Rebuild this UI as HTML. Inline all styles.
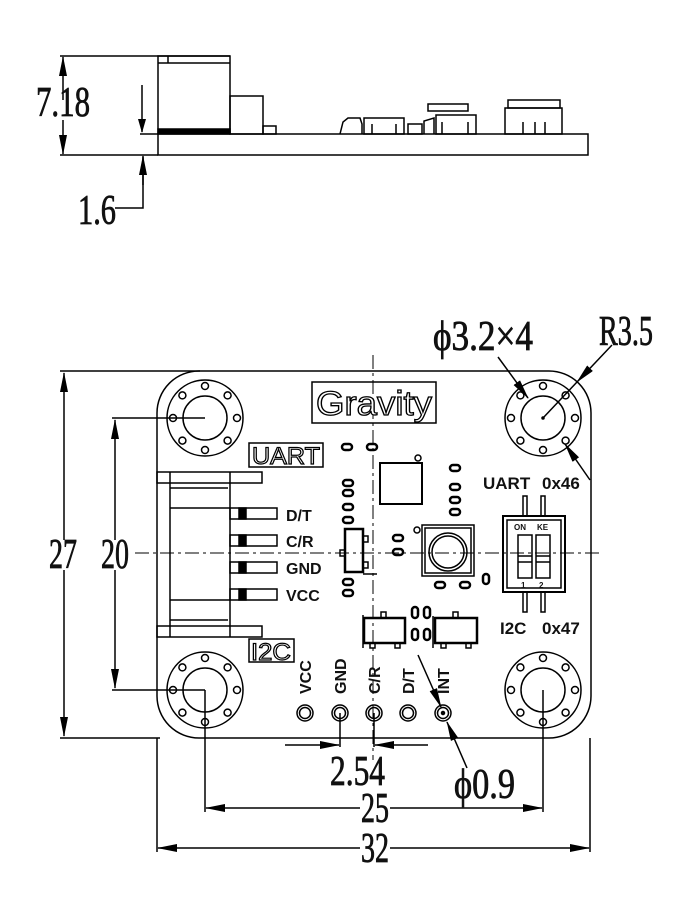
<!DOCTYPE html>
<html><head><meta charset="utf-8"><style>
html,body{margin:0;padding:0;background:#fff;}
svg{display:block;}
.d{font-family:"Liberation Serif",serif;font-size:42px;fill:#111;stroke:#111;stroke-width:0.8;}
.l{font-family:"Liberation Sans",sans-serif;font-weight:bold;fill:#111;}
</style></head><body>
<svg width="700" height="923" viewBox="0 0 700 923" xmlns="http://www.w3.org/2000/svg">
<defs>
<marker id="a" markerWidth="14" markerHeight="8" refX="13" refY="4" orient="auto" markerUnits="userSpaceOnUse"><path d="M0,0 L14,4 L0,8 Z" fill="#000"/></marker>
<marker id="as" markerWidth="20" markerHeight="8" refX="19" refY="4" orient="auto" markerUnits="userSpaceOnUse"><path d="M0,0 L20,4 L0,8 Z" fill="#000"/></marker>
</defs>
<g stroke="#000" fill="none" stroke-width="1.5">
<line x1="60" y1="56" x2="230" y2="56"/>
<line x1="60" y1="155" x2="158" y2="155"/>
<line x1="63" y1="100" x2="63" y2="57" marker-end="url(#as)"/>
<line x1="63" y1="120" x2="63" y2="154" marker-end="url(#as)"/>
<line x1="142" y1="85" x2="142" y2="132" marker-end="url(#a)"/>
<line x1="140" y1="134" x2="158" y2="134"/>
<polyline points="115,208 143,208 143,157" />
<line x1="143" y1="185" x2="143" y2="156" marker-end="url(#as)"/>
<rect x="158" y="134" width="430" height="21"/>
<rect x="158" y="56" width="72" height="78"/>
<line x1="158" y1="63" x2="230" y2="63"/>
<line x1="168" y1="56" x2="168" y2="63"/>
<rect x="158" y="129" width="72" height="4" fill="#000"/>
<rect x="230" y="96" width="33" height="38"/>
<rect x="263" y="126" width="13" height="8"/>
<path d="M340,134 L343,122 L348,118 L360,118 L362,124 L362,134"/>
<rect x="364" y="118" width="40" height="16"/>
<line x1="372" y1="124" x2="372" y2="134"/><line x1="396" y1="124" x2="396" y2="134"/>
<rect x="408" y="124" width="14" height="10"/>
<rect x="428" y="104" width="40" height="7"/>
<path d="M424,134 L424,121 L434,118 L434,134"/>
<rect x="436" y="115" width="40" height="19"/>
<line x1="442" y1="122" x2="442" y2="134"/><line x1="468" y1="122" x2="468" y2="134"/>
<rect x="505" y="108" width="57" height="26"/>
<rect x="508" y="100" width="52" height="8"/>
<line x1="523" y1="122" x2="523" y2="134"/><line x1="535" y1="122" x2="535" y2="134"/><line x1="545" y1="122" x2="545" y2="134"/>
</g>
<text class="d" x="36" y="116" textLength="54" lengthAdjust="spacingAndGlyphs">7.18</text>
<text class="d" x="78" y="224" textLength="38" lengthAdjust="spacingAndGlyphs">1.6</text>

<g stroke="#000" fill="none" stroke-width="1.5">
<rect x="157" y="371" width="434" height="367" rx="42"/>
<line x1="60" y1="371" x2="200" y2="371"/>
<line x1="60" y1="738" x2="160" y2="738"/>
<line x1="64" y1="540" x2="64" y2="373" marker-end="url(#as)"/>
<line x1="64" y1="570" x2="64" y2="736" marker-end="url(#as)"/>
<line x1="112" y1="418" x2="205" y2="418"/>
<line x1="112" y1="690" x2="205" y2="690"/>
<line x1="115" y1="540" x2="115" y2="420" marker-end="url(#as)"/>
<line x1="115" y1="570" x2="115" y2="688" marker-end="url(#as)"/>
<line x1="135" y1="553" x2="600" y2="553" stroke-width="1" stroke-dasharray="14,4,3,4"/>
<line x1="373" y1="355" x2="373" y2="760" stroke-width="1" stroke-dasharray="14,4,3,4"/>
<line x1="205" y1="690" x2="205" y2="812"/>
<line x1="543" y1="690" x2="543" y2="812"/>
<line x1="157" y1="738" x2="157" y2="852"/>
<line x1="590" y1="738" x2="590" y2="852"/>
<line x1="340" y1="713" x2="340" y2="747"/>
<line x1="374" y1="713" x2="374" y2="747"/>
<line x1="285" y1="745" x2="339" y2="745" marker-end="url(#as)"/>
<line x1="428" y1="745" x2="375" y2="745" marker-end="url(#as)"/>
<line x1="360" y1="808" x2="206" y2="808" marker-end="url(#as)"/>
<line x1="390" y1="808" x2="542" y2="808" marker-end="url(#as)"/>
<line x1="360" y1="848" x2="158" y2="848" marker-end="url(#as)"/>
<line x1="390" y1="848" x2="589" y2="848" marker-end="url(#as)"/>
<line x1="418" y1="655" x2="441" y2="707" marker-end="url(#as)"/>
<line x1="467" y1="768" x2="447" y2="722" marker-end="url(#as)"/>
<line x1="498" y1="357" x2="528" y2="398" marker-end="url(#as)"/>
<line x1="612" y1="345" x2="577" y2="382" marker-end="url(#as)"/>
<line x1="577" y1="382" x2="543" y2="418"/>
<line x1="590" y1="480" x2="565" y2="444" marker-end="url(#as)"/>
<rect x="157" y="472" width="105" height="11"/>
<rect x="157" y="626" width="105" height="11"/>
<line x1="170" y1="472" x2="170" y2="637"/>
<line x1="230" y1="472" x2="230" y2="637"/>
<line x1="170" y1="488" x2="228" y2="488"/>
<line x1="170" y1="508" x2="230" y2="508"/>
<line x1="170" y1="600" x2="230" y2="600"/>
<line x1="170" y1="620" x2="228" y2="620"/>
<rect x="230" y="508" width="47" height="11"/><rect x="239" y="508" width="7" height="11" fill="#000"/>
<rect x="230" y="535" width="47" height="11"/><rect x="239" y="535" width="7" height="11" fill="#000"/>
<rect x="230" y="562" width="47" height="11"/><rect x="239" y="562" width="7" height="11" fill="#000"/>
<rect x="230" y="589" width="47" height="11"/><rect x="239" y="589" width="7" height="11" fill="#000"/>
<rect x="312" y="382" width="124" height="41"/>
<rect x="249" y="443" width="74" height="24"/>
<rect x="249" y="639" width="45" height="23"/>
<rect x="380" y="463" width="42" height="41" stroke-width="2"/>
<circle cx="418" cy="458" r="3"/>
<rect x="422" y="525" width="52" height="51"/>
<rect x="425" y="528" width="46" height="45"/>
<circle cx="448" cy="552" r="19"/><circle cx="448" cy="552" r="16"/>
<circle cx="417" cy="530" r="3"/>
<rect x="345" y="529" width="18" height="43" stroke-width="2.5"/>
<rect x="363" y="536" width="5" height="6"/><rect x="363" y="562" width="5" height="6"/><rect x="340" y="550" width="5" height="6"/>
<line x1="363" y1="574" x2="377" y2="574"/>
<rect x="364" y="618" width="41" height="25" stroke-width="2.5"/>
<rect x="381" y="612" width="5" height="6"/><rect x="370" y="643" width="5" height="5"/><rect x="395" y="643" width="5" height="5"/>
<line x1="363" y1="615" x2="363" y2="648"/>
<rect x="435" y="618" width="42" height="25" stroke-width="2.5"/>
<rect x="453" y="612" width="5" height="6"/><rect x="441" y="643" width="5" height="5"/><rect x="466" y="643" width="5" height="5"/>
<line x1="433" y1="616" x2="433" y2="648"/>
<g stroke-width="2.5">
<rect x="342" y="444" width="10" height="6" rx="3"/>
<rect x="367" y="444" width="10" height="6" rx="3"/>
<rect x="343" y="480" width="10" height="6" rx="3"/>
<rect x="343" y="490" width="10" height="6" rx="3"/>
<rect x="343" y="504" width="10" height="6" rx="3"/>
<rect x="343" y="517" width="10" height="6" rx="3"/>
<rect x="343" y="579" width="10" height="6" rx="3"/>
<rect x="343" y="590" width="10" height="6" rx="3"/>
<rect x="393" y="535" width="10" height="6" rx="3"/>
<rect x="393" y="549" width="10" height="6" rx="3"/>
<rect x="450" y="465" width="10" height="6" rx="3"/>
<rect x="450" y="484" width="10" height="6" rx="3"/>
<rect x="450" y="497" width="10" height="6" rx="3"/>
<rect x="450" y="509" width="10" height="6" rx="3"/>
<rect x="435" y="582" width="10" height="6" rx="3"/>
<rect x="460" y="582" width="10" height="6" rx="3"/>
<rect x="483" y="574" width="6" height="10" rx="3"/>
<rect x="412" y="607" width="6" height="11" rx="3"/>
<rect x="424" y="607" width="6" height="11" rx="3"/>
<rect x="412" y="629" width="6" height="11" rx="3"/>
<rect x="424" y="629" width="6" height="11" rx="3"/>
</g>
<rect x="503" y="516" width="62" height="76" stroke-width="2"/>
<rect x="507" y="520" width="54" height="68"/>
<rect x="518" y="535" width="14" height="43"/><line x1="518" y1="556" x2="532" y2="556"/><line x1="518" y1="562" x2="532" y2="562"/>
<rect x="536" y="535" width="14" height="43"/><line x1="536" y1="556" x2="550" y2="556"/><line x1="536" y1="562" x2="550" y2="562"/>
<rect x="523" y="496" width="4" height="20"/><rect x="541" y="496" width="4" height="20"/>
<rect x="523" y="592" width="4" height="20"/><rect x="541" y="592" width="4" height="20"/>
<circle cx="305" cy="713" r="8"/><circle cx="305" cy="713" r="5.5"/>
<circle cx="340" cy="713" r="8"/><circle cx="340" cy="713" r="5.5"/>
<circle cx="374" cy="713" r="8"/><circle cx="374" cy="713" r="5.5"/>
<circle cx="408" cy="713" r="8"/><circle cx="408" cy="713" r="5.5"/>
<circle cx="443" cy="713" r="8"/><circle cx="443" cy="713" r="5.5"/>
<circle cx="443" cy="713" r="1.5" fill="#000"/>
</g>
<g stroke="#000" fill="none" stroke-width="1.5">
<g transform="translate(205,418)"><circle r="38"/><circle r="22"/><g id="sm"><circle cx="32" r="3.5"/><circle cx="-32" r="3.5"/><circle cy="32" r="3.5"/><circle cy="-32" r="3.5"/><circle cx="22.6" cy="22.6" r="3.5"/><circle cx="-22.6" cy="22.6" r="3.5"/><circle cx="22.6" cy="-22.6" r="3.5"/><circle cx="-22.6" cy="-22.6" r="3.5"/></g></g>
<g transform="translate(543,418)"><circle r="38"/><circle r="22"/><use href="#sm"/><circle r="1" fill="#000"/></g>
<g transform="translate(205,690)"><circle r="38"/><circle r="22"/><use href="#sm"/></g>
<g transform="translate(543,690)"><circle r="38"/><circle r="22"/><use href="#sm"/></g>
</g>
<text x="374" y="415" text-anchor="middle" font-family="Liberation Sans,sans-serif" font-size="34" fill="#fff" stroke="#000" stroke-width="1.3" textLength="116" lengthAdjust="spacingAndGlyphs">Gravity</text>
<text x="286" y="464" text-anchor="middle" font-family="Liberation Sans,sans-serif" font-size="24" fill="#fff" stroke="#000" stroke-width="1.2" textLength="68" lengthAdjust="spacingAndGlyphs">UART</text>
<text x="271" y="660" text-anchor="middle" font-family="Liberation Sans,sans-serif" font-size="24" fill="#fff" stroke="#000" stroke-width="1.2" textLength="40" lengthAdjust="spacingAndGlyphs">I2C</text>
<text class="l" x="286" y="521" font-size="16">D/T</text>
<text class="l" x="286" y="547" font-size="16">C/R</text>
<text class="l" x="286" y="574" font-size="16">GND</text>
<text class="l" x="286" y="601" font-size="16">VCC</text>
<text class="l" x="483" y="489" font-size="17">UART</text><text class="l" x="542" y="489" font-size="17">0x46</text>
<text class="l" x="500" y="634" font-size="17">I2C</text><text class="l" x="542" y="634" font-size="17">0x47</text>
<text class="l" x="514" y="530" font-size="8">ON</text><text class="l" x="537" y="530" font-size="8">KE</text>
<text class="l" x="521" y="588" font-size="8">1</text><text class="l" x="539" y="588" font-size="8">2</text>
<g class="l" font-size="16">
<text transform="translate(311,694) rotate(-90)">VCC</text>
<text transform="translate(346,694) rotate(-90)">GND</text>
<text transform="translate(380,694) rotate(-90)">C/R</text>
<text transform="translate(414,694) rotate(-90)">D/T</text>
<text transform="translate(449,694) rotate(-90)">INT</text>
</g>
<text class="d" x="49" y="568" textLength="28" lengthAdjust="spacingAndGlyphs">27</text>
<text class="d" x="101" y="568" textLength="28" lengthAdjust="spacingAndGlyphs">20</text>
<text class="d" x="330" y="785" textLength="55" lengthAdjust="spacingAndGlyphs">2.54</text>
<text class="d" x="454" y="798" textLength="61" lengthAdjust="spacingAndGlyphs">ϕ0.9</text>
<text class="d" x="361" y="822" textLength="28" lengthAdjust="spacingAndGlyphs">25</text>
<text class="d" x="361" y="862" textLength="28" lengthAdjust="spacingAndGlyphs">32</text>
<text class="d" x="433" y="350" textLength="100" lengthAdjust="spacingAndGlyphs">ϕ3.2×4</text>
<text class="d" x="599" y="345" textLength="54" lengthAdjust="spacingAndGlyphs">R3.5</text>
</svg>
</body></html>
